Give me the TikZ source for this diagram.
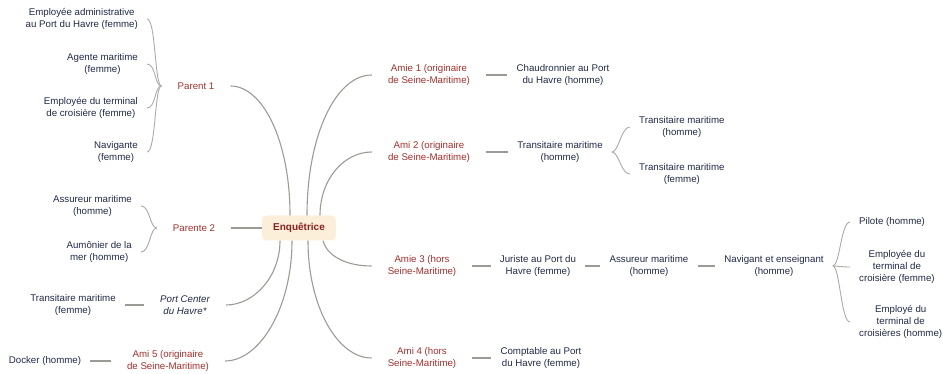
\documentclass[tikz,border=0pt]{standalone}
\usepackage{fontspec}
\setmainfont{Liberation Sans}
\definecolor{brred}{RGB}{168,46,42}
\definecolor{ctred}{RGB}{140,32,30}
\definecolor{navy}{RGB}{32,42,72}
\definecolor{ln}{RGB}{155,155,150}
\definecolor{boxfill}{RGB}{252,239,218}
\begin{document}
\begin{tikzpicture}[x=1pt,y=-1pt,
  txt/.style={font=\fontsize{9.7}{11.7}\selectfont, text=navy, align=center, inner xsep=9pt, inner ysep=1pt},
  br/.style={txt, text=brred, inner xsep=16pt},
  conn/.style={draw=ln, line width=1.1pt},
  brace/.style={draw=ln!85, line width=0.9pt},
]
\useasboundingbox (0,0) rectangle (943,374);

% centre
\node[fill=boxfill, rounded corners=5pt, minimum width=74pt, minimum height=25pt, inner sep=0pt,
      font=\fontsize{10}{12}\selectfont\bfseries, text=ctred] (enq) at (299,228) {Enquêtrice};

% left branches
\node[br] (p1) at (196,86) {Parent 1};
\node[txt, anchor=east] (c11) at (147,19) {Employée administrative\\au Port du Havre (femme)};
\node[txt, anchor=east] (c12) at (147,64) {Agente maritime\\(femme)};
\node[txt, anchor=east] (c13) at (147,108) {Employée du terminal\\de croisière (femme)};
\node[txt, anchor=east] (c14) at (147,152) {Navigante\\(femme)};

\node[br] (p2) at (194,228) {Parente 2};
\node[txt, anchor=east] (c21) at (141,206) {Assureur maritime\\(homme)};
\node[txt, anchor=east] (c22) at (141,252) {Aumônier de la\\mer (homme)};

\node[br, text=navy, font=\fontsize{9.7}{11.7}\selectfont\itshape] (pc) at (185,305) {Port Center\\du Havre*};
\node[txt] (c31) at (73,305) {Transitaire maritime\\(femme)};

\node[br] (a5) at (168,361) {Ami 5 (originaire\\de Seine-Maritime)};
\node[txt] (c51) at (45,361) {Docker (homme)};

% right branches
\node[br] (a1) at (429,75) {Amie 1 (originaire\\de Seine-Maritime)};
\node[txt] (d1) at (563,75) {Chaudronnier au Port\\du Havre (homme)};

\node[br] (a2) at (429,152) {Ami 2 (originaire\\de Seine-Maritime)};
\node[txt] (d2) at (560,152) {Transitaire maritime\\(homme)};
\node[txt, anchor=west] (d21) at (630,127) {Transitaire maritime\\(homme)};
\node[txt, anchor=west] (d22) at (630,174) {Transitaire maritime\\(femme)};

\node[br] (a3) at (422,266) {Amie 3 (hors\\Seine-Maritime)};
\node[txt] (d3) at (538,266) {Juriste au Port du\\Havre (femme)};
\node[txt] (d4) at (649,266) {Assureur maritime\\(homme)};
\node[txt] (d5) at (774,266) {Navigant et enseignant\\(homme)};
\node[txt, anchor=west] (d51) at (850,222) {Pilote (homme)};
\node[txt, anchor=west] (d52) at (850,267) {Employée du\\terminal de\\croisière (femme)};
\node[txt, anchor=west] (d53) at (850,322) {Employé du\\terminal de\\croisières (homme)};

\node[br] (a4) at (422,358) {Ami 4 (hors\\Seine-Maritime)};
\node[txt] (d6) at (541,358) {Comptable au Port\\du Havre (femme)};

% anchor points on the central box
\coordinate (t1) at ([xshift=-9pt]enq.north);
\coordinate (t2) at ([xshift=8pt]enq.north);
\coordinate (t3) at ([xshift=21pt]enq.north);
\coordinate (b1) at ([xshift=-19pt]enq.south);
\coordinate (b2) at ([xshift=-7pt]enq.south);
\coordinate (b3) at ([xshift=9pt]enq.south);
\coordinate (b4) at ([xshift=24pt]enq.south);

% curved connectors from the centre
\draw[conn] (t1) .. controls +(0pt,75pt) and +(32pt,0pt) .. (p1.east);
\draw[conn] (t2) .. controls +(0pt,80pt) and +(-36pt,0pt) .. (a1.west);
\draw[conn] (t3) .. controls +(0pt,36pt) and +(-28pt,0pt) .. (a2.west);
\draw[conn] (b1) .. controls +(0pt,-36pt) and +(28pt,0pt) .. (pc.east);
\draw[conn] (b2) .. controls +(0pt,-68pt) and +(34pt,0pt) .. (a5.east);
\draw[conn] (b3) .. controls +(0pt,-66pt) and +(-34pt,0pt) .. (a4.west);
\draw[conn] (b4) .. controls +(4pt,-15pt) and +(-26pt,0pt) .. (a3.west);
\draw[conn] (p2.east) -- (enq.west);

% straight links
\draw[conn] (a1.east) -- (d1.west);
\draw[conn] (a2.east) -- (d2.west);
\draw[conn] (a3.east) -- (d3.west);
\draw[conn] (d3.east) -- (d4.west);
\draw[conn] (d4.east) -- (d5.west);
\draw[conn] (a4.east) -- (d6.west);
\draw[conn] (pc.west) -- (c31.east);
\draw[conn] (a5.west) -- (c51.east);

% braces
\foreach \c in {c11,c12,c13,c14}
  \draw[brace] (p1.west) .. controls +(-7pt,0pt) and +(9pt,0pt) .. (\c.east);
\foreach \c in {c21,c22}
  \draw[brace] (p2.west) .. controls +(-7pt,0pt) and +(9pt,0pt) .. (\c.east);
\foreach \c in {d21,d22}
  \draw[brace] (d2.east) .. controls +(7pt,0pt) and +(-9pt,0pt) .. (\c.west);
\foreach \c in {d51,d52,d53}
  \draw[brace] (d5.east) .. controls +(7pt,0pt) and +(-9pt,0pt) .. (\c.west);
\end{tikzpicture}
\end{document}
